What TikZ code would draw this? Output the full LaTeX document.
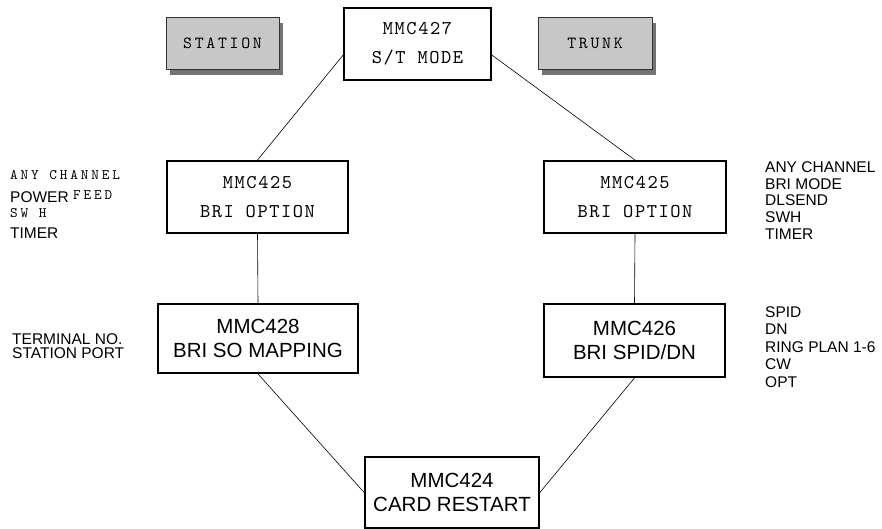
\documentclass[tikz,border=0pt]{standalone}
\usepackage{fontspec}
\setmainfont{Liberation Sans}
\newfontfamily\monoA{lmmono10-regular}[Extension=.otf, LetterSpace=8]
\newfontfamily\monoT{lmmono10-regular}[Extension=.otf, LetterSpace=16]
\newfontfamily\monoB{lmmono10-regular}[Extension=.otf, LetterSpace=20]
\usetikzlibrary{calc}
\tikzset{
  mmcbox/.style={draw=black, line width=1.8pt, fill=white, inner sep=0pt, align=center},
  tagbox/.style={draw=black!80, line width=0.6pt, fill=black!22, inner sep=0pt, align=center},
  monotext/.style={font=\monoA\fontsize{19.5}{29}\selectfont},
  tagtext/.style={font=\monoT\fontsize{17}{20}\selectfont},
  sanstext/.style={font=\fontsize{20.5}{23.5}\selectfont},
  sidemono/.style={font=\monoB\fontsize{14.5}{15}\selectfont, anchor=base west, inner sep=0pt},
  sideSans/.style={font=\fontsize{15.5}{16}\selectfont, anchor=base west, inner sep=0pt},
  link/.style={draw=black, line width=0.6pt}
}
\begin{document}
\begin{tikzpicture}[x=1pt,y=-1pt]
\useasboundingbox (0,0) rectangle (882,529);
% shadows
\fill[black!55] (170,23) rectangle (283,75);
\fill[black!55] (542,23) rectangle (656,75);
% tag boxes
\node[tagbox, minimum width=113pt, minimum height=52pt, tagtext] (station) at (222.5,43) {STATION};
\node[tagbox, minimum width=114pt, minimum height=52pt, tagtext] (trunk) at (595,43) {TRUNK};
% main boxes
\node[mmcbox, minimum width=147pt, minimum height=72pt, monotext] (t) at (417.5,44) {MMC427\\S/T MODE};
\node[mmcbox, minimum width=181pt, minimum height=72pt, monotext] (l425) at (257.5,197) {MMC425\\BRI OPTION};
\node[mmcbox, minimum width=182pt, minimum height=72pt, monotext] (r425) at (635,197) {MMC425\\BRI OPTION};
\node[mmcbox, minimum width=200pt, minimum height=69pt, sanstext] (l428) at (258,338.5) {MMC428\\BRI SO MAPPING};
\node[mmcbox, minimum width=181pt, minimum height=73pt, sanstext] (r426) at (634.5,340.5) {MMC426\\BRI SPID/DN};
\node[mmcbox, minimum width=174pt, minimum height=71pt, sanstext] (b424) at (452,492.5) {MMC424\\CARD RESTART};
% connectors
\draw[link] ($(t.west)!0.3!(t.south west)$) -- (l425.north);
\draw[link] ($(t.east)!0.3!(t.south east)$) -- (r425.north);
\draw[link] (l425.south) -- (l428.north);
\draw[link] (r425.south) -- (r426.north);
\draw[link] (l428.south) -- (b424.west);
\draw[link] (r426.south) -- (b424.east);
% left side texts
\node[sidemono] (la1) at (10,180) {ANY CHANNEL};
\node[sideSans] (la2) at (10,203) {POWER};
\node[sidemono] (la2b) at (73,200) {FEED};
\node[sidemono] (la3) at (10,218) {SW H};
\node[sideSans] (la4) at (10,238) {TIMER};
\node[sideSans] (lb1) at (12,344) {TERMINAL NO.};
\node[sideSans] (lb2) at (12,358.5) {STATION PORT};
% right side texts
\node[sideSans] (ra1) at (765,173) {ANY CHANNEL};
\node[sideSans] (ra2) at (765,189.5) {BRI MODE};
\node[sideSans] (ra3) at (765,206) {DLSEND};
\node[sideSans] (ra4) at (765,222.5) {SWH};
\node[sideSans] (ra5) at (765,239) {TIMER};
\node[sideSans] (rb1) at (765,317) {SPID};
\node[sideSans] (rb2) at (765,334.5) {DN};
\node[sideSans] (rb3) at (765,352) {RING PLAN 1-6};
\node[sideSans] (rb4) at (765,369.5) {CW};
\node[sideSans] (rb5) at (765,387) {OPT};
\end{tikzpicture}
\end{document}
